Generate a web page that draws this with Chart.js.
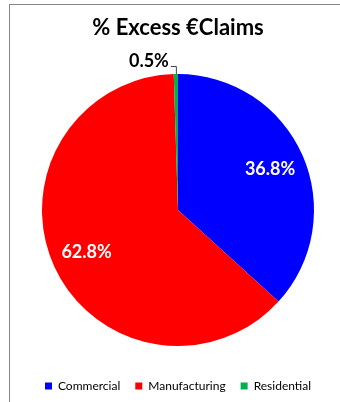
<!DOCTYPE html>
<html>
<head>
<meta charset="utf-8">
<script src="https://cdn.jsdelivr.net/npm/chart.js@4.4.1/dist/chart.umd.min.js"></script>
<style>
  html, body { margin: 0; padding: 0; background: #fff; overflow: hidden; }
  #frame {
    position: absolute; left: 9px; top: 4px;
    width: 340px; height: 410px;
    border-left: 1px solid #868686; border-top: 1px solid #868686;
  }
  #box { position: absolute; left: 0; top: 0; width: 336px; height: 400px; }
</style>
</head>
<body>
<div id="frame"><div id="box"><canvas id="claimsChart"></canvas></div></div>
<script>
const sectors = ['Commercial', 'Manufacturing', 'Residential'];
const shares = [36.8, 62.8, 0.5];
const sectorColors = ['#0000ff', '#ff0000', '#00b050'];

const FONT = 'Lato, "Open Sans", sans-serif';

// percentage labels: inside the big slices, outside with a leader for thin ones
const sliceLabels = {
  id: 'sliceLabels',
  afterDatasetsDraw(chart) {
    const ctx = chart.ctx;
    const meta = chart.getDatasetMeta(0);
    ctx.save();
    meta.data.forEach((arc, i) => {
      const p = arc.getProps(['x', 'y', 'startAngle', 'endAngle', 'outerRadius'], true);
      const mid = (p.startAngle + p.endAngle) / 2;
      const text = shares[i].toFixed(1) + '%';
      if (shares[i] >= 5) {
        const r = p.outerRadius * 0.74;
        ctx.font = 'bold 18px ' + FONT;
        ctx.fillStyle = '#ffffff';
        ctx.textAlign = 'center';
        ctx.textBaseline = 'middle';
        ctx.fillText(text, p.x + Math.cos(mid) * r, p.y + Math.sin(mid) * r);
      } else {
        const ex = p.x + Math.cos(mid) * p.outerRadius;
        const ey = p.y + Math.sin(mid) * p.outerRadius;
        ctx.strokeStyle = '#404040';
        ctx.lineWidth = 1;
        ctx.beginPath();
        ctx.moveTo(ex + 0.5, ey);
        ctx.lineTo(ex + 0.5, ey - 7.5);
        ctx.lineTo(ex - 5, ey - 7.5);
        ctx.stroke();
        ctx.font = 'bold 18px ' + FONT;
        ctx.fillStyle = '#000000';
        ctx.textAlign = 'right';
        ctx.textBaseline = 'alphabetic';
        ctx.fillText(text, ex - 7, ey - 7);
      }
    });
    ctx.restore();
  }
};

new Chart(document.getElementById('claimsChart'), {
  type: 'pie',
  data: {
    labels: sectors,
    datasets: [{
      data: shares,
      backgroundColor: sectorColors,
      borderWidth: 0,
      radius: 136
    }]
  },
  options: {
    responsive: true,
    maintainAspectRatio: false,
    animation: false,
    events: [],
    layout: { padding: { top: 0, bottom: 3, left: 0, right: 0 } },
    plugins: {
      title: {
        display: true,
        text: '% Excess €Claims',
        color: '#000000',
        font: { family: FONT, size: 22, weight: 'bold', lineHeight: 1.2 },
        padding: { top: 10, bottom: 13.6 }
      },
      legend: {
        position: 'bottom',
        labels: {
          color: '#000000',
          font: { family: FONT, size: 12 },
          boxWidth: 7,
          boxHeight: 7,
          padding: 15
        }
      },
      tooltip: { enabled: false }
    }
  },
  plugins: [sliceLabels]
});
</script>
</body>
</html>
